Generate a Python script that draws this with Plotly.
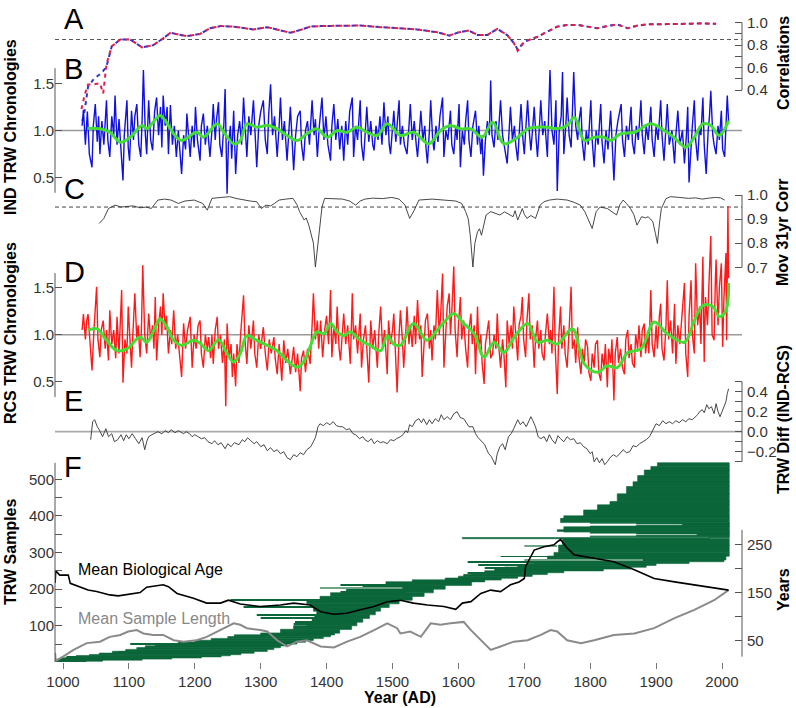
import plotly.graph_objects as go

# ---------------- DATA ----------------
# A: correlations (two overlapping series)
a_years = [1028,1033,1038,1047,1056,1061,1066,1074,1087,1102,1120,1137,1152,1163,1188,1208,1223,1239,1259,1289,
           1310,1330,1345,1360,1375,1391,1406,1431,1451,1482,1512,1537,1568,1586,1601,1616,1629,1644,1659,1674,
           1684,1690,1700,1720,1735,1750,1765,1781,1796,1811,1826,1841,1857,1872,1887,1912,1933,1948,1968,1991]
a_blue = [0.09,0.22,0.43,0.50,0.54,0.57,0.61,0.79,0.85,0.85,0.78,0.80,0.86,0.91,0.88,0.90,0.95,0.97,0.965,0.94,
          0.96,0.935,0.91,0.935,0.965,0.97,0.97,0.975,0.975,0.96,0.95,0.94,0.915,0.885,0.915,0.93,0.89,0.89,0.945,0.89,
          0.82,0.76,0.83,0.875,0.92,0.965,0.98,0.98,0.965,0.95,0.97,0.985,0.95,0.975,0.985,0.985,0.988,0.99,0.994,0.99]
a_red = [0.23,0.36,0.45,0.45,0.46,0.37,0.63,0.79,0.85,0.85,0.78,0.80,0.86,0.91,0.88,0.90,0.95,0.97,0.965,0.94,
         0.96,0.935,0.91,0.935,0.965,0.97,0.97,0.975,0.975,0.96,0.95,0.94,0.915,0.885,0.915,0.93,0.89,0.89,0.945,0.89,
         0.82,0.75,0.83,0.875,0.92,0.965,0.98,0.98,0.965,0.95,0.97,0.985,0.95,0.975,0.985,0.985,0.988,0.99,0.994,0.99]

# B: IND TRW chronology (spiky) and its smooth
b_pts = [(1029,1.05),(1031,1.22),(1034,0.85),(1037,1.20),(1040,0.75),(1044,0.61),(1046,1.05),(1049,1.28),(1052,0.88),(1054,1.15),
 (1056,0.75),(1059,1.10),(1062,0.85),(1066,1.32),(1068,0.90),(1071,0.72),(1074,1.15),(1077,0.95),(1079,1.37),(1082,0.85),
 (1085,1.12),(1088,0.80),(1091,0.47),(1093,0.95),(1097,1.32),(1099,0.82),(1101,0.68),(1104,1.21),(1107,0.90),(1109,1.15),
 (1112,1.28),(1115,0.85),(1118,0.72),(1120,1.10),(1122,1.64),(1125,0.95),(1127,0.75),(1130,1.32),(1133,0.90),(1136,0.79),
 (1139,1.20),(1142,1.35),(1145,0.95),(1148,1.25),(1150,0.82),(1152,1.37),(1155,1.05),(1158,1.25),(1160,0.75),(1163,1.27),
 (1166,0.85),(1169,1.05),(1172,0.72),(1175,1.00),(1178,0.70),(1180,0.54),(1183,0.95),(1186,0.80),(1188,1.18),(1191,0.85),
 (1193,0.72),(1196,1.05),(1199,0.82),(1201,1.25),(1204,0.90),(1208,0.68),(1210,1.05),(1213,1.18),(1216,0.85),(1219,1.05),
 (1223,0.72),(1226,1.00),(1228,1.28),(1231,0.90),(1233,1.12),(1236,1.30),(1238,0.85),(1241,0.72),(1244,1.05),(1246,1.44),
 (1249,0.33),(1251,0.85),(1254,1.05),(1256,0.70),(1259,1.21),(1262,0.54),(1265,0.95),(1268,1.10),(1271,0.85),(1274,1.35),
 (1277,0.90),(1279,0.72),(1282,1.15),(1285,0.95),(1289,1.32),(1292,0.85),(1294,0.61),(1297,1.05),(1300,1.20),(1304,1.32),
 (1307,0.90),(1310,0.75),(1312,1.15),(1315,1.49),(1318,0.95),(1321,1.15),(1325,0.72),(1328,1.05),(1330,1.35),(1333,0.90),
 (1336,1.10),(1340,0.68),(1343,1.00),(1345,1.25),(1348,0.85),(1350,0.58),(1353,0.95),(1356,1.15),(1360,1.21),(1362,0.85),
 (1365,0.68),(1368,1.00),(1371,1.10),(1374,0.85),(1378,1.32),(1381,0.95),(1383,1.12),(1386,0.72),(1389,1.05),(1393,1.35),
 (1396,0.90),(1399,1.15),(1402,0.85),(1406,0.68),(1408,1.05),(1411,1.28),(1414,0.90),(1417,1.12),(1420,0.80),(1423,1.05),
 (1426,0.68),(1429,1.10),(1432,0.85),(1435,1.20),(1439,1.35),(1441,0.72),(1444,1.05),(1447,0.90),(1451,1.32),(1453,0.85),
 (1456,0.68),(1459,1.10),(1461,1.25),(1464,0.88),(1467,1.10),(1470,0.85),(1472,0.79),(1475,1.05),(1478,0.90),(1481,1.15),
 (1484,0.85),(1487,1.30),(1490,0.95),(1493,1.15),(1495,0.85),(1497,0.75),(1500,1.05),(1502,1.21),(1505,0.88),(1508,1.10),
 (1510,1.32),(1512,0.85),(1515,1.05),(1518,0.85),(1522,0.75),(1525,1.05),(1527,1.28),(1530,0.90),(1533,1.10),(1536,0.85),
 (1538,0.72),(1541,1.00),(1543,1.21),(1546,0.90),(1549,1.05),(1551,0.80),(1553,0.65),(1556,1.00),(1558,1.32),(1561,0.90),
 (1563,0.79),(1566,1.05),(1569,0.88),(1572,1.15),(1576,1.35),(1578,0.72),(1581,1.00),(1584,0.90),(1588,1.21),(1590,0.85),
 (1593,0.75),(1596,1.05),(1598,0.90),(1601,1.28),(1603,0.61),(1606,1.00),(1609,0.85),(1611,1.10),(1614,1.32),(1616,0.90),
 (1619,0.72),(1622,1.05),(1626,1.21),(1629,0.85),(1631,1.05),(1634,0.75),(1636,0.95),(1638,0.52),(1641,0.90),(1644,1.10),
 (1647,0.95),(1649,1.53),(1651,0.95),(1654,0.82),(1657,1.10),(1660,0.90),(1664,1.32),(1667,0.95),(1670,0.80),(1674,0.65),
 (1677,1.00),(1679,1.25),(1682,0.90),(1685,1.05),(1687,0.85),(1690,0.68),(1693,1.05),(1695,1.28),(1698,0.90),(1700,0.75),
 (1703,1.10),(1705,1.32),(1708,0.95),(1710,0.79),(1713,1.05),(1715,1.25),(1718,0.90),(1720,0.72),(1723,1.05),(1725,1.32),
 (1728,0.95),(1731,1.10),(1735,0.72),(1737,1.15),(1739,1.64),(1742,1.00),(1745,0.85),(1748,1.32),(1750,0.36),(1753,1.00),
 (1756,1.15),(1758,1.62),(1760,0.75),(1763,1.05),(1765,1.35),(1768,0.95),(1771,0.82),(1773,1.20),(1775,1.62),(1778,1.05),
 (1781,0.90),(1783,1.10),(1786,1.25),(1788,0.88),(1791,0.68),(1794,1.00),(1797,0.85),(1801,1.32),(1803,0.90),(1806,0.61),
 (1809,1.00),(1812,0.85),(1816,1.28),(1818,0.88),(1821,0.65),(1824,1.00),(1827,0.80),(1831,1.21),(1833,0.85),(1836,0.47),
 (1839,0.95),(1842,1.10),(1847,1.28),(1849,0.90),(1852,0.72),(1855,1.05),(1858,0.90),(1862,1.25),(1864,0.88),(1867,0.75),
 (1870,1.05),(1873,0.90),(1877,1.32),(1879,0.95),(1882,0.75),(1885,1.05),(1888,0.90),(1892,1.25),(1894,0.90),(1897,0.72),
 (1900,1.05),(1903,0.90),(1907,1.32),(1909,0.95),(1912,0.68),(1915,1.00),(1917,1.28),(1920,0.85),(1924,1.00),(1928,0.65),
 (1930,0.95),(1933,1.21),(1936,0.85),(1940,1.00),(1943,0.65),(1946,0.95),(1948,1.25),(1950,0.45),(1953,0.85),(1955,1.05),
 (1958,1.32),(1960,0.90),(1963,0.68),(1966,1.05),(1968,0.95),(1971,1.35),(1973,0.85),(1976,0.54),(1979,1.00),(1981,1.15),
 (1983,1.42),(1986,0.95),(1988,0.85),(1991,0.75),(1994,1.05),(1996,0.90),(1999,1.21),(2001,0.80),(2004,0.72),(2006,1.05),
 (2008,1.37),(2010,1.10)]
bs_years = [1038,1056,1071,1087,1102,1120,1127,1135,1147,1155,1168,1180,1203,1213,1234,1244,1259,1269,1279,1294,
            1310,1325,1340,1355,1370,1385,1401,1416,1431,1446,1461,1477,1492,1512,1532,1555,1573,1588,1603,1619,
            1636,1652,1669,1690,1705,1720,1735,1750,1765,1776,1791,1806,1821,1831,1846,1867,1892,1912,1927,1945,
            1958,1971,1983,1996,2010]
bs_vals = [1.025,1.018,0.982,0.876,0.929,1.053,1.018,1.071,1.159,1.106,0.965,0.894,0.982,0.929,1.071,0.982,0.859,0.894,1.071,1.035,
           1.053,1.018,0.947,0.894,0.965,1.018,0.929,1.0,0.982,1.035,0.982,0.947,1.071,0.947,0.982,0.859,1.0,1.053,1.018,1.018,
           0.929,1.088,0.859,0.929,1.018,1.035,1.035,1.018,1.053,1.141,0.894,0.929,0.929,0.894,0.965,0.982,1.071,1.0,0.929,0.823,
           0.929,1.071,1.053,0.947,1.106]

# C: moving 31-yr correlation
c_pts = [(1055,0.882),(1062,0.903),(1069,0.944),(1079,0.958),(1088,0.950),(1096,0.951),(1106,0.955),(1117,0.947),(1126,0.950),
 (1134,0.944),(1144,0.979),(1154,0.983),(1164,0.979),(1175,0.965),(1185,0.975),(1199,0.979),(1212,0.965),(1219,0.937),(1226,0.986),
 (1240,0.990),(1253,0.993),(1264,0.985),(1274,0.979),(1284,0.975),(1294,0.972),(1301,0.944),(1308,0.958),(1315,0.955),(1321,0.965),
 (1328,0.979),(1338,0.983),(1349,0.986),(1355,0.960),(1359,0.931),(1366,0.896),(1369,0.905),(1373,0.875),(1376,0.847),(1380,0.80),
 (1383,0.701),(1387,0.80),(1390,0.861),(1393,0.95),(1397,0.986),(1410,0.985),(1424,0.983),(1435,0.975),(1444,0.958),(1451,0.975),
 (1458,0.983),(1470,0.987),(1485,0.985),(1499,0.990),(1510,0.983),(1519,0.958),(1526,0.903),(1533,0.937),(1540,0.979),(1560,0.983),
 (1581,0.979),(1596,0.975),(1605,0.965),(1611,0.931),(1615,0.90),(1618,0.833),(1622,0.701),(1625,0.80),(1629,0.847),(1632,0.860),
 (1635,0.833),(1642,0.917),(1649,0.931),(1655,0.925),(1663,0.917),(1670,0.930),(1677,0.920),(1683,0.910),(1686,0.935),(1690,0.896),
 (1697,0.944),(1700,0.920),(1704,0.903),(1710,0.915),(1717,0.903),(1724,0.958),(1730,0.972),(1738,0.979),(1750,0.983),(1765,0.979),
 (1775,0.970),(1785,0.958),(1792,0.93),(1796,0.903),(1800,0.88),(1803,0.861),(1809,0.931),(1815,0.95),(1826,0.944),(1833,0.930),
 (1840,0.917),(1845,0.96),(1850,0.979),(1855,0.965),(1861,0.944),(1866,0.92),(1871,0.875),(1878,0.910),(1884,0.905),(1888,0.910),
 (1895,0.889),(1899,0.84),(1902,0.799),(1905,0.88),(1908,0.944),(1915,0.985),(1922,0.993),(1935,0.990),(1949,0.986),(1960,0.988),
 (1970,0.983),(1980,0.987),(1990,0.990),(1998,0.988),(2004,0.979)]

# D: RCS TRW chronology (spiky) and its smooth
d_pts = [(1029,1.05),(1031,1.22),(1034,0.95),(1036,1.15),(1038,1.22),(1041,0.90),(1044,0.62),(1047,1.05),(1051,1.51),(1053,0.95),
 (1056,0.76),(1058,1.05),(1061,1.15),(1064,0.85),(1066,1.05),(1069,0.725),(1071,1.26),(1074,0.90),(1077,1.05),(1080,0.75),
 (1082,1.19),(1085,0.80),(1089,1.475),(1091,0.49),(1094,0.95),(1097,0.80),(1099,1.30),(1102,0.90),(1104,0.65),(1106,1.00),
 (1109,1.44),(1112,0.95),(1114,1.10),(1117,0.76),(1119,1.05),(1121,1.74),(1124,1.00),(1127,0.80),(1130,1.225),(1133,0.95),
 (1136,1.10),(1138,0.85),(1140,1.40),(1142,0.725),(1145,1.10),(1148,1.30),(1150,1.00),(1152,1.44),(1155,1.05),(1157,1.20),
 (1160,0.80),(1163,1.05),(1165,0.90),(1168,1.26),(1171,0.85),(1174,1.00),(1177,0.80),(1180,0.55),(1183,1.12),(1186,0.85),
 (1189,1.05),(1193,1.19),(1196,0.65),(1199,1.00),(1202,0.85),(1205,1.10),(1208,1.15),(1210,0.80),(1213,0.65),(1216,1.00),
 (1219,0.85),(1221,0.975),(1224,0.75),(1226,1.00),(1228,0.69),(1231,1.05),(1234,1.19),(1236,0.85),(1239,1.00),(1242,0.70),
 (1245,0.95),(1247,0.24),(1249,1.12),(1252,0.75),(1255,0.90),(1257,0.55),(1259,0.80),(1262,0.45),(1264,0.90),(1267,0.70),
 (1270,1.05),(1274,1.42),(1276,0.95),(1279,0.69),(1282,1.10),(1285,0.85),(1289,1.15),(1291,0.80),(1294,0.65),(1297,1.00),
 (1300,0.85),(1304,1.08),(1307,0.80),(1310,0.62),(1313,0.95),(1316,0.80),(1320,0.975),(1322,0.75),(1325,0.58),(1328,0.90),
 (1332,0.51),(1335,0.94),(1338,0.70),(1341,0.85),(1345,0.58),(1348,0.80),(1350,0.87),(1353,0.60),(1356,0.80),(1360,0.40),
 (1362,0.75),(1365,0.83),(1368,0.60),(1371,0.85),(1375,0.69),(1378,1.10),(1380,1.44),(1383,0.95),(1386,1.15),(1388,0.85),
 (1391,1.15),(1394,0.76),(1397,1.05),(1400,1.20),(1403,0.90),(1406,1.475),(1408,0.76),(1411,1.10),(1414,0.90),(1416,1.30),
 (1419,0.85),(1421,0.725),(1424,1.05),(1426,1.225),(1429,0.90),(1432,1.10),(1436,0.69),(1439,1.44),(1441,0.95),(1444,1.10),
 (1447,0.80),(1451,1.225),(1453,0.65),(1456,0.95),(1459,1.10),(1461,0.85),(1464,0.49),(1467,1.15),(1470,0.85),(1473,1.05),
 (1477,0.65),(1479,1.00),(1482,1.30),(1485,0.85),(1488,1.05),(1492,0.58),(1494,1.15),(1497,0.90),(1500,1.05),(1502,1.225),
 (1505,0.80),(1507,0.385),(1510,1.00),(1512,1.26),(1515,0.95),(1517,0.65),(1520,1.00),(1522,1.30),(1525,0.90),(1527,1.10),
 (1530,0.87),(1533,1.20),(1535,0.90),(1538,1.37),(1541,0.95),(1543,1.10),(1545,0.55),(1548,1.00),(1550,1.15),(1553,1.225),
 (1556,0.85),(1558,1.05),(1560,0.725),(1563,1.10),(1565,0.95),(1568,1.475),(1571,1.00),(1573,1.20),(1576,1.65),(1578,0.65),
 (1581,1.10),(1583,1.30),(1586,1.44),(1588,1.00),(1590,1.25),(1593,1.725),(1595,1.05),(1598,0.76),(1600,1.10),(1603,1.40),
 (1605,0.95),(1608,1.15),(1611,0.85),(1614,0.65),(1616,1.05),(1619,1.225),(1621,0.90),(1624,1.10),(1626,0.58),(1629,1.30),
 (1631,0.85),(1634,1.00),(1636,0.70),(1639,0.475),(1641,0.90),(1644,1.05),(1646,1.15),(1649,0.75),(1652,0.80),(1654,1.00),
 (1657,0.85),(1659,1.225),(1661,0.90),(1664,0.65),(1667,0.95),(1669,0.80),(1672,0.44),(1674,1.15),(1677,0.90),(1680,1.10),
 (1682,0.85),(1684,1.30),(1687,0.95),(1690,0.725),(1692,1.10),(1695,1.20),(1697,1.40),(1699,0.95),(1702,0.76),(1704,1.15),
 (1707,1.44),(1709,0.95),(1712,1.10),(1715,0.65),(1717,0.95),(1720,1.15),(1722,0.85),(1725,1.05),(1727,0.80),(1730,0.725),
 (1732,1.00),(1735,1.225),(1738,0.90),(1740,1.05),(1742,0.80),(1745,1.51),(1747,0.85),(1750,0.37),(1752,0.95),(1755,1.30),
 (1757,0.85),(1760,1.10),(1762,0.80),(1765,0.65),(1768,1.05),(1771,1.51),(1773,0.85),(1776,0.95),(1778,0.70),(1781,1.08),
 (1783,0.75),(1786,0.58),(1788,0.85),(1791,0.70),(1793,0.95),(1796,0.87),(1798,0.60),(1801,0.51),(1803,0.80),(1806,0.65),
 (1808,0.90),(1811,0.94),(1813,0.60),(1816,0.51),(1818,0.80),(1821,0.65),(1823,0.90),(1826,0.44),(1828,0.85),(1831,0.70),
 (1833,0.95),(1836,0.30),(1838,0.80),(1841,0.975),(1843,0.70),(1846,0.85),(1849,0.65),(1852,0.58),(1854,0.95),(1857,1.05),
 (1859,0.75),(1862,0.90),(1864,0.70),(1867,0.65),(1869,1.00),(1872,0.85),(1874,1.10),(1877,0.76),(1879,1.05),(1882,1.12),
 (1884,0.80),(1887,1.00),(1889,0.80),(1892,1.475),(1894,0.90),(1897,0.76),(1900,1.10),(1902,0.85),(1905,1.20),(1907,1.33),
 (1909,0.85),(1912,0.725),(1915,1.10),(1917,1.58),(1919,0.95),(1922,1.15),(1925,0.80),(1928,1.33),(1930,0.69),(1933,1.10),
 (1936,0.90),(1939,1.15),(1943,1.55),(1945,0.80),(1948,0.55),(1950,1.20),(1953,1.58),(1955,1.00),(1958,0.80),(1960,1.76),
 (1963,1.10),(1966,1.30),(1968,0.90),(1971,1.83),(1973,0.71),(1975,1.40),(1978,1.10),(1980,1.50),(1983,2.05),(1985,1.00),
 (1988,0.94),(1990,1.60),(1991,1.80),(1994,1.10),(1996,1.50),(1999,1.76),(2001,0.87),(2003,1.40),(2006,1.87),(2007,0.94),
 (2009,2.37),(2010,1.60)]
ds_years = [1038,1051,1066,1082,1097,1117,1127,1140,1147,1158,1168,1180,1198,1208,1221,1236,1249,1259,1269,1279,
            1294,1310,1325,1340,1355,1365,1375,1385,1396,1406,1416,1426,1436,1451,1466,1482,1492,1502,1512,1532,
            1552,1568,1583,1593,1608,1624,1639,1654,1669,1685,1705,1720,1735,1750,1773,1791,1811,1826,1841,1857,
            1877,1897,1917,1943,1958,1971,1986,1996,2006,2010]
ds_vals = [1.046,1.064,0.94,0.83,0.85,0.975,0.92,1.08,1.17,1.08,0.94,0.886,0.94,0.91,0.83,0.946,0.80,0.71,0.80,0.99,
           0.94,0.886,0.83,0.725,0.654,0.71,0.87,1.03,1.01,1.12,1.03,0.99,1.03,0.94,0.886,0.83,0.99,0.90,0.886,1.12,
           0.94,1.05,1.17,1.225,1.12,1.01,0.76,0.92,0.81,0.975,1.12,0.92,0.94,0.90,1.064,0.69,0.60,0.67,0.65,0.81,
           0.85,1.136,1.01,0.92,1.15,1.31,1.30,1.19,1.26,1.55]

# E: difference IND - RCS
e_pts = [(1042,-0.08),(1045,0.10),(1048,0.12),(1052,0.05),(1055,0.02),(1060,-0.05),(1065,0.03),(1069,-0.05),(1074,-0.02),(1078,-0.10),
 (1083,-0.08),(1088,-0.03),(1092,-0.09),(1096,-0.03),(1100,-0.07),(1105,-0.02),(1110,-0.07),(1115,-0.12),(1120,-0.06),(1124,-0.18),
 (1127,-0.10),(1130,-0.05),(1135,-0.03),(1140,-0.01),(1144,0.0),(1150,-0.02),(1155,0.01),(1160,-0.01),(1164,0.02),(1170,-0.01),
 (1175,0.01),(1178,0.00),(1183,-0.02),(1187,0.00),(1192,-0.02),(1196,-0.05),(1200,-0.03),(1205,-0.05),(1210,-0.07),(1215,-0.06),
 (1220,-0.10),(1226,-0.12),(1230,-0.09),(1235,-0.13),(1240,-0.11),(1246,-0.17),(1250,-0.12),(1255,-0.15),(1260,-0.11),(1267,-0.13),
 (1272,-0.08),(1276,-0.10),(1280,-0.06),(1285,-0.09),(1290,-0.12),(1294,-0.10),(1300,-0.15),(1305,-0.13),(1310,-0.19),(1315,-0.16),
 (1320,-0.20),(1325,-0.18),(1330,-0.22),(1335,-0.20),(1340,-0.26),(1345,-0.28),(1350,-0.23),(1355,-0.25),(1360,-0.21),(1365,-0.23),
 (1370,-0.18),(1376,-0.15),(1380,-0.10),(1383,-0.06),(1387,0.05),(1390,0.08),(1395,0.06),(1400,0.09),(1405,0.07),(1410,0.10),
 (1415,0.06),(1420,0.05),(1424,0.05),(1430,0.02),(1435,0.03),(1440,-0.02),(1444,-0.03),(1450,-0.07),(1455,-0.05),(1458,-0.08),
 (1463,-0.10),(1468,-0.07),(1472,-0.12),(1477,-0.09),(1482,-0.11),(1486,-0.10),(1492,-0.12),(1497,-0.08),(1502,-0.09),(1506,-0.07),
 (1512,-0.05),(1516,-0.03),(1520,0.01),(1523,-0.01),(1526,0.07),(1530,0.05),(1535,0.11),(1540,0.13),(1544,0.09),(1547,0.13),
 (1552,0.07),(1556,0.12),(1560,0.08),(1565,0.13),(1570,0.10),(1574,0.17),(1578,0.12),(1583,0.15),(1588,0.12),(1593,0.18),
 (1598,0.20),(1603,0.14),(1608,0.13),(1612,0.09),(1616,0.05),(1622,0.05),(1626,-0.02),(1630,-0.06),(1635,-0.10),(1640,-0.13),
 (1643,-0.18),(1646,-0.22),(1650,-0.25),(1653,-0.30),(1656,-0.33),(1659,-0.22),(1663,-0.15),(1667,-0.12),(1671,-0.18),(1676,-0.05),
 (1680,-0.02),(1684,0.03),(1690,0.12),(1694,0.07),(1698,0.10),(1703,0.05),(1707,0.10),(1710,0.15),(1713,0.11),(1717,0.05),
 (1721,-0.05),(1725,-0.07),(1730,-0.05),(1734,-0.10),(1738,-0.03),(1742,-0.08),(1747,-0.12),(1751,-0.04),(1755,-0.07),(1760,-0.10),
 (1765,-0.05),(1770,-0.08),(1775,-0.07),(1780,-0.12),(1785,-0.11),(1790,-0.15),(1795,-0.17),(1800,-0.22),(1803,-0.20),(1806,-0.30),
 (1810,-0.26),(1814,-0.31),(1818,-0.27),(1822,-0.33),(1826,-0.30),(1830,-0.26),(1835,-0.23),(1840,-0.25),(1845,-0.22),(1850,-0.18),
 (1855,-0.21),(1860,-0.20),(1865,-0.14),(1870,-0.15),(1875,-0.12),(1880,-0.10),(1885,-0.08),(1890,-0.05),(1895,0.02),(1900,0.08),
 (1905,0.06),(1910,0.11),(1915,0.08),(1920,0.10),(1925,0.08),(1930,0.11),(1935,0.09),(1940,0.12),(1945,0.10),(1950,0.13),
 (1955,0.12),(1960,0.15),(1963,0.17),(1966,0.20),(1970,0.22),(1973,0.19),(1977,0.27),(1980,0.23),(1984,0.25),(1988,0.18),
 (1991,0.28),(1994,0.20),(1997,0.15),(2000,0.20),(2003,0.25),(2006,0.30),(2008,0.38),(2010,0.43)]

# F: sample segments (rank_lo, rank_hi, first year, last year)
f_rows = [(0,3,988,1035),(3,6,989,1060),(6,9,992,1120),(9,12,998,1165),(12,15,1005,1210),(15,18,1020,1240),
 (18,21,1040,1254),(21,25,1055,1270),(25,30,1075,1290),(30,35,1095,1310),(35,40,1112,1320),(40,45,1125,1330),
 (45,50,1140,1340),(50,55,1175,1355),(55,60,1200,1368),(60,65,1225,1380),(65,70,1250,1395),(70,75,1260,1406),
 (75,80,1300,1412),(80,90,1330,1420),(90,100,1350,1438),(100,110,1370,1446),(110,120,1378,1455),(120,130,1382,1465),
 (130,140,1385,1474),(140,150,1380,1482),(150,160,1375,1495),(160,170,1370,1510),(170,180,1390,1530),(180,190,1406,1548),
 (190,200,1430,1562),(200,210,1455,1580),(210,220,1490,1620),(220,225,1530,1640),(225,230,1580,1665),(230,235,1600,1690),
 (235,240,1608,1712),(240,245,1620,1735),(245,250,1640,1760),(250,255,1655,1820),(255,260,1670,1862),(260,265,1690,1885),
 (265,270,1705,1900),(270,275,1715,1950),(275,280,1725,2003),(280,290,1735,2006),(290,300,1745,2011),(300,320,1752,2011),
 (320,338,1758,2011),(338,340.5,1606,1981),(340.5,343,1980,2011),
 (343,345,1800,2011),(345,347,1870,2011),(347,351,1962,2011),(351,353,1870,2011),(353,356,1800,2011),
 (356,358,1760,2011),(358,362,1750,2011),(362,370,1760,2011),
 (370,372,1800,2011),(372,374,1870,2011),(374,378,1940,2011),(378,380,1870,2011),(380,382,1800,2011),
 (382,393,1755,2011),(393,400,1760,2011),(400,416,1790,2011),(416,430,1811,2011),(430,439,1830,2011),(439,460,1841,2011),
 (460,480,1855,2011),(480,493,1865,2011),(493,510,1872,2011),(510,525,1882,2011),(525,535,1892,2011),(535,545,1902,2011)]
# thin single samples reaching further out (rank, first year, last year)
f_lines = [(15,1006,1130),(29,1084,1210),(49,1102,1215),(97,1350,1420),(104,1350,1430),(111,1352,1440),(120,1300,1420),
 (129,1294,1420),(152,1274,1400),(170,1254,1400),(193,1421,1520),(211,1421,1538),(243,1614,1700),(257,1640,1740),
 (266,1630,1770),(275,1614,1790),(289,1664,1897)]
f_light = [(202,1390,1515),(280,1700,1880),(318,1700,1750)]

# F right axis: mean biological age and mean sample length (years)
bio_years = [988,989,995,1008,1011,1026,1038,1051,1071,1084,1107,1117,1127,1152,1160,1173,1198,1218,1239,1251,
             1269,1299,1330,1350,1375,1391,1411,1431,1451,1472,1492,1512,1532,1553,1578,1596,1606,1619,1634,1649,
             1664,1679,1692,1700,1702,1715,1730,1745,1750,1755,1765,1776,1806,1836,1867,1897,1928,1958,1988,2010]
bio_vals = [170,195,186,186,169,162,155,152,145,143,148,150,161,166,162,148,138,128,128,134,
            126,121,124,128,124,110,105,107,114,121,131,134,128,124,121,115,128,131,148,155,
            152,166,172,179,204,238,245,249,255,260,242,228,221,214,197,179,172,166,159,155]
len_years = [988,989,1000,1016,1036,1056,1071,1087,1099,1112,1122,1137,1152,1168,1183,1203,1218,1234,1249,1259,
             1269,1279,1299,1310,1325,1340,1355,1370,1391,1411,1431,1451,1472,1492,1507,1512,1527,1543,1558,1573,
             1588,1608,1619,1634,1649,1664,1684,1705,1725,1740,1750,1765,1786,1806,1836,1867,1897,1928,1958,1988,2010]
len_vals = [25,8,17,31,45,48,58,62,69,72,65,62,62,51,48,51,58,69,79,86,
            83,76,72,69,51,38,48,51,38,36,48,58,72,86,76,65,69,58,86,83,
            86,89,72,51,31,38,48,51,62,72,69,51,45,51,62,65,76,97,114,134,155]

x_ticks = [1000,1100,1200,1300,1400,1500,1600,1700,1800,1900,2000]

# ---------------- LAYOUT HELPERS ----------------
W, H = 796, 708
ML, MR, MT, MB = 55, 54, 0, 46
PW, PH = W - ML - MR, H - MT - MB
FONT = "Liberation Sans, Arial, sans-serif"
GREEN = "#0b663a"

def xrange_from(ya, pa, yb, pb):
    s = (pb - pa) / (yb - ya)
    return [ya - (pa - ML) / s, ya + (W - MR - pa) / s]

def yrange(va, pa, vb, pb):
    s = (pb - pa) / (va - vb)
    return [va - (H - MB - pa) / s, va + (pa - MT) / s]

def px(x):
    return (x - ML) / PW

def py(y):
    return (H - MB - y) / PH

XR = xrange_from(1000, 63, 2000, 722)

def unz(pts):
    return [p[0] for p in pts], [p[1] for p in pts]

fig = go.Figure()

# F: samples
def bars(rows, color, name, pad=0.0, edge=0.0):
    cen = [(r[0] + r[1]) / 2 for r in rows]
    wid = [r[1] - r[0] + pad for r in rows]
    base = [r[2] for r in rows]
    ln = [r[3] - r[2] for r in rows]
    fig.add_trace(go.Bar(y=cen, x=ln, base=base, width=wid, orientation="h", yaxis="y6",
                         marker=dict(color=color, line=dict(width=edge, color=color)),
                         name=name, showlegend=False))

bars(f_rows, GREEN, "samples", pad=0.6, edge=0.6)
bars([(r[0] - 1.3, r[0] + 1.3, r[1], r[2]) for r in f_lines], GREEN, "single")
bars([(r[0] - 1.1, r[0] + 1.1, r[1], r[2]) for r in f_light], "#6fa585", "light")

fig.add_trace(go.Scatter(x=len_years, y=len_vals, yaxis="y7", mode="lines",
                         line=dict(color="#8a8a8a", width=2), showlegend=False))
fig.add_trace(go.Scatter(x=bio_years, y=bio_vals, yaxis="y7", mode="lines",
                         line=dict(color="#000000", width=1.6), showlegend=False))

# E
ex, ey = unz(e_pts)
fig.add_trace(go.Scatter(x=ex, y=ey, yaxis="y5", mode="lines",
                         line=dict(color="#333333", width=0.9), showlegend=False))
# C
cx, cy = unz(c_pts)
fig.add_trace(go.Scatter(x=cx, y=cy, yaxis="y3", mode="lines",
                         line=dict(color="#333333", width=0.9), showlegend=False))
# D
dx, dy = unz(d_pts)
fig.add_trace(go.Scatter(x=dx, y=dy, yaxis="y4", mode="lines",
                         line=dict(color="#ff1a1a", width=1.4), showlegend=False))
fig.add_trace(go.Scatter(x=ds_years, y=ds_vals, yaxis="y4", mode="lines",
                         line=dict(color="#44dd33", width=3, shape="spline"), showlegend=False))
# B
bx, by = unz(b_pts)
fig.add_trace(go.Scatter(x=bx, y=by, yaxis="y2", mode="lines",
                         line=dict(color="#1010e0", width=1.4), showlegend=False))
fig.add_trace(go.Scatter(x=bs_years, y=bs_vals, yaxis="y2", mode="lines",
                         line=dict(color="#44dd33", width=3, shape="spline"), showlegend=False))
# A (red dashes and blue dashes interleaved)
fig.add_trace(go.Scatter(x=a_years, y=a_blue, yaxis="y", mode="lines",
                         line=dict(color="#3333cc", width=2, dash="0px,4px,4px,0px"), showlegend=False))
fig.add_trace(go.Scatter(x=a_years, y=a_red, yaxis="y", mode="lines",
                         line=dict(color="#e0204a", width=2, dash="4px,4px"), showlegend=False))

# ---------------- AXES ----------------
TICKFONT = dict(size=15, color="#333333", family=FONT)

def yax(rng, side, vals, minor=None, fmt=".1f", overlay=True):
    d = dict(range=rng, domain=[0, 1], side=side, anchor="x", showgrid=False, zeroline=False,
             showline=False, ticks="inside", ticklen=7, tickcolor="#555555", tickwidth=1,
             tickmode="array", tickvals=vals, tickformat=fmt, tickfont=TICKFONT, fixedrange=True)
    if side == "right":
        d["ticklabelstandoff"] = 4
    if minor:
        d["minor"] = dict(tickmode="array", tickvals=minor, ticks="inside", ticklen=7,
                          tickcolor="#555555", tickwidth=1, showgrid=False)
    if overlay:
        d["overlaying"] = "y"
    return d

rA = yrange(1.0, 22.7, 0.4, 90)
rB = yrange(1.5, 83.3, 0.5, 177.7)
rC = yrange(1.0, 195, 0.7, 267.3)
rD = yrange(1.5, 287.7, 0.5, 381.7)
rE = yrange(0.4, 391.7, -0.2, 451.7)
rF = yrange(500, 479.3, 100, 625.7)
rY = yrange(250, 544.3, 50, 640.7)

fig.update_layout(
    width=W, height=H, margin=dict(l=ML, r=MR, t=MT, b=MB),
    paper_bgcolor="white", plot_bgcolor="white",
    font=dict(family=FONT, color="#000000"),
    barmode="overlay", showlegend=False,
    xaxis=dict(range=XR, showgrid=False, zeroline=False, showline=False, ticks="outside",
               ticklen=6, tickcolor="#777777", tickmode="array", tickvals=x_ticks,
               tickfont=TICKFONT, fixedrange=True),
    yaxis=yax(rA, "right", [0.4, 0.6, 0.8, 1.0], [0.5, 0.7, 0.9], overlay=False),
    yaxis2=yax(rB, "left", [0.5, 1.0, 1.5]),
    yaxis3=yax(rC, "right", [0.7, 0.8, 0.9, 1.0]),
    yaxis4=yax(rD, "left", [0.5, 1.0, 1.5]),
    yaxis5=yax(rE, "right", [-0.2, 0.0, 0.2, 0.4], [-0.3, -0.1, 0.1, 0.3, 0.5]),
    yaxis6=yax(rF, "left", [100, 200, 300, 400, 500], [50, 150, 250, 350, 450], fmt="d"),
    yaxis7=yax(rY, "right", [50, 150, 250], [100, 200], fmt="d"),
)

# axis lines and reference lines
shapes = []
def vline(yref, side, v0, v1):
    shapes.append(dict(type="line", xref="paper", x0=side, x1=side, yref=yref, y0=v0, y1=v1,
                       line=dict(color="#555555", width=1)))
def hline(yref, v, color, width, dash="solid"):
    shapes.append(dict(type="line", xref="paper", x0=0, x1=1, yref=yref, y0=v, y1=v, layer="below",
                       line=dict(color=color, width=width, dash=dash)))

vline("y", 1, 0.4, 1.0)
vline("y2", 0, 0.34, 1.66)
vline("y3", 1, 0.7, 1.0)
vline("y4", 0, 0.337, 1.656)
vline("y5", 1, -0.3, 0.5)
vline("y6", 0, 0, 545)
vline("y7", 1, 17, 280)
hline("y", 0.85, "#555555", 1, "4px,3px")
hline("y3", 0.95, "#444444", 1, "4px,3px")
hline("y2", 1.0, "#999999", 1.5)
hline("y4", 1.0, "#999999", 1.5)
hline("y5", 0.0, "#aaaaaa", 1.8)
fig.update_layout(shapes=shapes)

# annotations
ann = []
for letter, cy_ in [("A", 20.5), ("B", 69.5), ("C", 190), ("D", 272.5), ("E", 401.5), ("F", 467.5)]:
    ann.append(dict(text=letter, xref="paper", yref="paper", x=px(62), y=py(cy_ - 1), xanchor="left",
                    yanchor="middle", showarrow=False, font=dict(size=29, color="#000000", family=FONT)))

def title(text, x, y, angle=-90, size=16):
    ann.append(dict(text="<b>" + text + "</b>", xref="paper", yref="paper", x=px(x), y=py(y),
                    xanchor="center", yanchor="middle", textangle=angle, showarrow=False,
                    font=dict(size=size, color="#000000", family=FONT)))

title("Correlations", 783, 63)
title("IND TRW Chronologies", 10, 127)
title("Mov 31yr Corr", 783, 232)
title("RCS TRW Chronologies", 10, 333)
title("TRW Diff (IND-RCS)", 783, 420)
title("TRW Samples", 10, 552)
title("Years", 783, 590)
title("Year (AD)", 400, 697, angle=0)

ann.append(dict(text="Mean Biological Age", xref="paper", yref="paper", x=px(76), y=py(569),
                xanchor="left", yanchor="middle", showarrow=False,
                font=dict(size=16, color="#000000", family=FONT)))
ann.append(dict(text="Mean Sample Length", xref="paper", yref="paper", x=px(76), y=py(618),
                xanchor="left", yanchor="middle", showarrow=False,
                font=dict(size=16, color="#888888", family=FONT)))
fig.update_layout(annotations=ann)

fig.write_html("out.html", config={"displayModeBar": False},
               post_script="document.body.style.margin='0';document.body.style.overflow='hidden';")
